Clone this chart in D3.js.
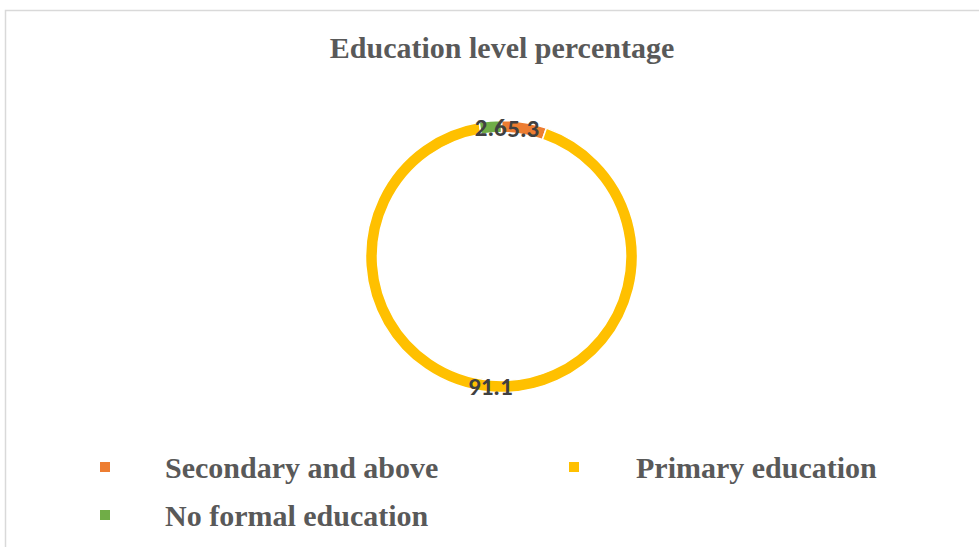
<!DOCTYPE html>
<html lang="en">
<head>
    <meta charset="UTF-8">
    <title>Education level percentage</title>
    <style>
        body { margin: 0; background: #fff; }
    </style>
    <script src="https://d3js.org/d3.v7.min.js"></script>
</head>
<body>
    <script>
        const categories = ['Secondary and above', 'Primary education', 'No formal education']
        const values = [5.3, 91.1, 2.6]
        const colors = ['#ED7D31', '#FFC000', '#70AD47']

        const width = 979
        const height = 547
        const cx = 501.5, cy = 256.5
        const outerR = 136, innerR = 124

        let svg = d3.select('body').append('svg').attr('width', width).attr('height', height)

        // chart border (only top and left visible in the crop)
        svg.append('path')
            .attr('d', `M5.5,${height} V10.5 H${width}`)
            .attr('fill', 'none')
            .attr('stroke', '#d9d9d9')
            .attr('stroke-width', 1.5)

        svg.append('text')
            .attr('x', 502).attr('y', 58)
            .attr('text-anchor', 'middle')
            .attr('font-family', '"Liberation Serif", "Times New Roman", serif')
            .attr('font-weight', 'bold')
            .attr('font-size', 30)
            .attr('fill', '#595959')
            .text('Education level percentage')

        const data = categories.map((c, i) => ({ name: c, value: values[i], color: colors[i] }))
        let pie = d3.pie().value(d => d.value).sort(null)
        let arc = d3.arc().innerRadius(innerR).outerRadius(outerR)
        let arcs = pie(data)

        let g = svg.append('g').attr('transform', `translate(${cx},${cy})`)
        g.selectAll('path')
            .data(arcs)
            .enter()
            .append('path')
            .attr('d', arc)
            .attr('fill', d => d.data.color)
            .attr('stroke', '#fff')
            .attr('stroke-width', 1.5)

        g.selectAll('text')
            .data(arcs)
            .enter()
            .append('text')
            .attr('transform', d => `translate(${arc.centroid(d)})`)
            .attr('text-anchor', 'middle')
            .attr('dy', '0.35em')
            .attr('font-family', 'Carlito, Calibri, "DejaVu Sans", sans-serif')
            .attr('font-weight', 'bold')
            .attr('font-size', 25)
            .attr('fill', '#404040')
            .text(d => d.data.value)

        // legend
        const legendPos = [[100, 467], [569, 467], [100, 515]]
        let legend = svg.append('g').selectAll('g')
            .data(data)
            .enter()
            .append('g')
            .attr('transform', (d, i) => `translate(${legendPos[i][0]},${legendPos[i][1]})`)
        legend.append('rect')
            .attr('x', 0).attr('y', -5)
            .attr('width', 10).attr('height', 10)
            .attr('fill', d => d.color)
        legend.append('text')
            .attr('x', (d, i) => i === 1 ? 67 : 65)
            .attr('y', 0)
            .attr('dy', '0.35em')
            .attr('font-family', '"Liberation Serif", "Times New Roman", serif')
            .attr('font-weight', 'bold')
            .attr('font-size', 30)
            .attr('fill', '#595959')
            .text(d => d.name)
    </script>
</body>
</html>
